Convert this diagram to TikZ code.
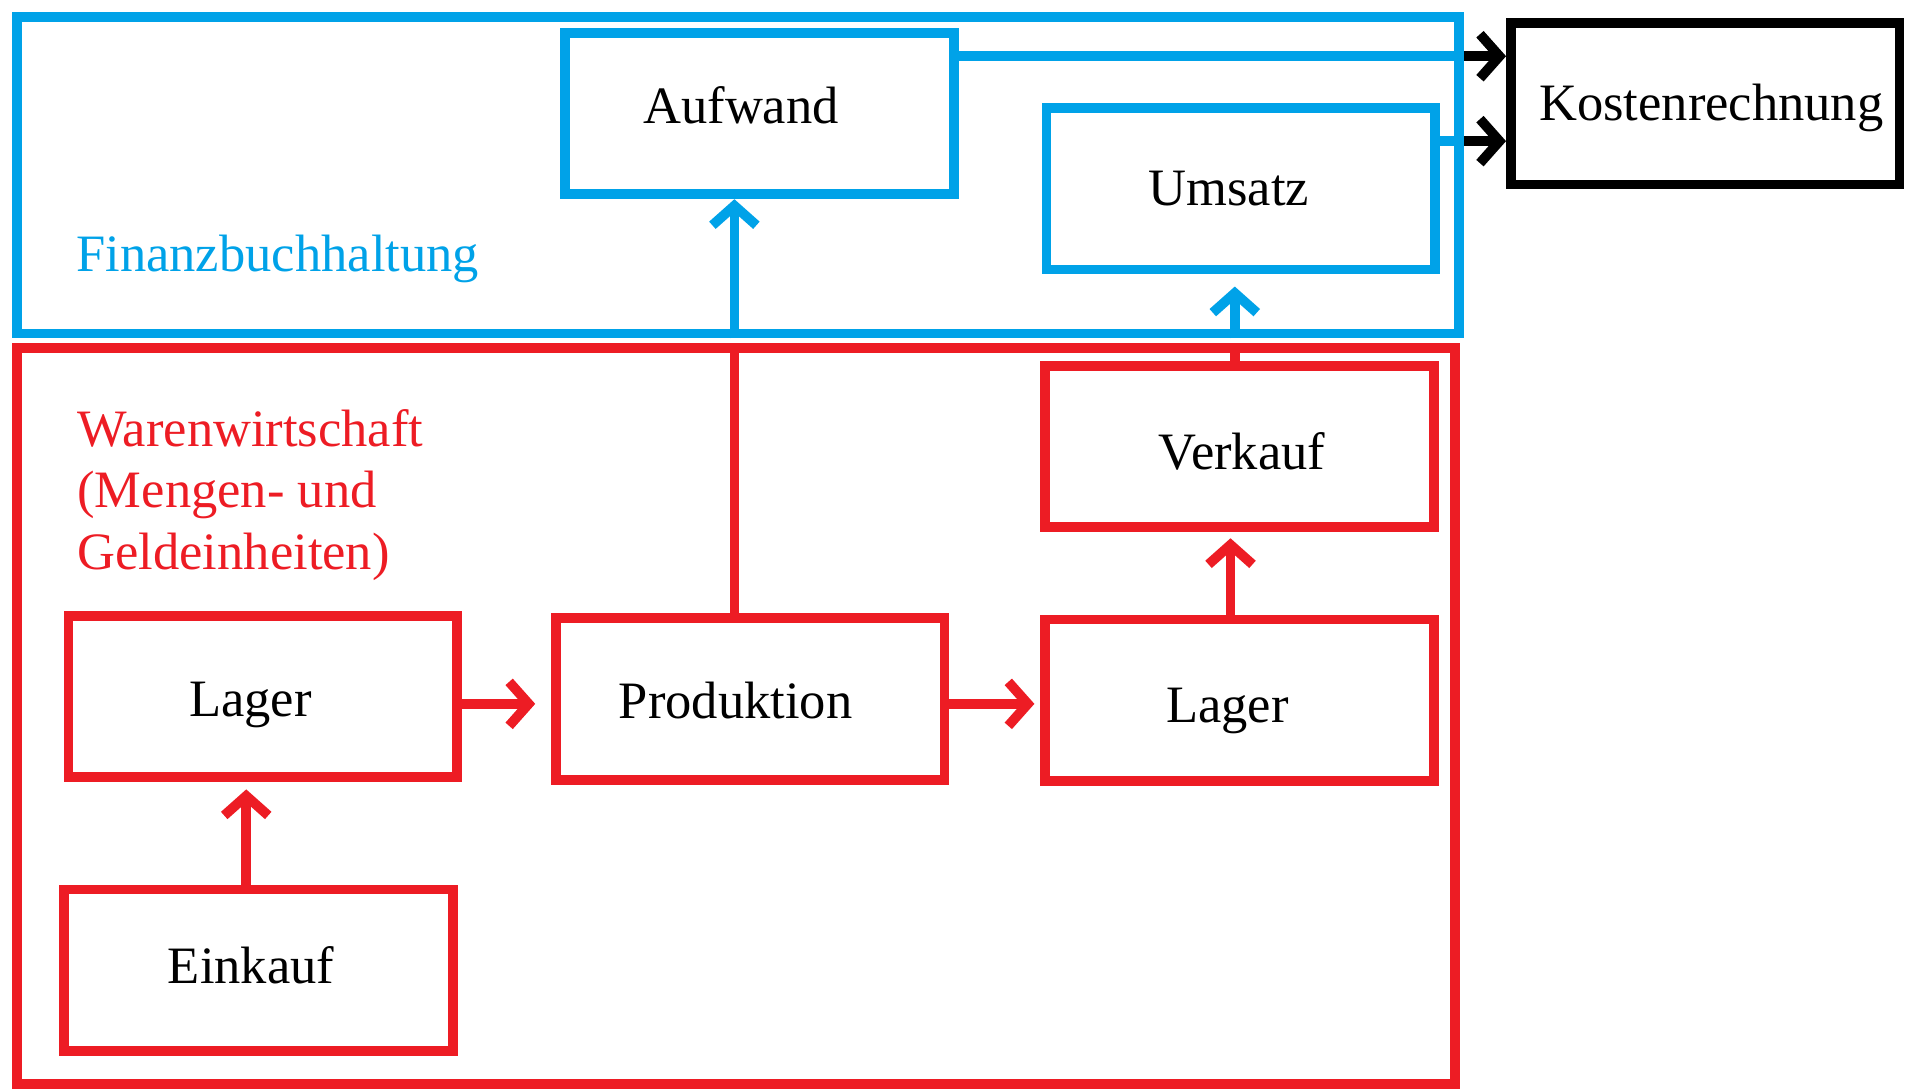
\documentclass[tikz,border=0pt]{standalone}
\usepackage{fontspec}
\setmainfont{Liberation Serif}
\usetikzlibrary{arrows.meta}
\definecolor{fibublue}{HTML}{00A2E8}
\definecolor{wawired}{HTML}{ED1C24}

\begin{document}
\begin{tikzpicture}[x=0.5pt, y=-0.5pt,
        every node/.style={font=\fontsize{21.5}{25}\selectfont},
        box/.style={draw, line width=4pt, minimum width=159pt, minimum height=66pt},
        boxtext/.style n args={3}{label={[xshift=#1, yshift=#2]center:#3}},
        link/.style={line width=4pt},
        flow/.style={line width=4pt, -{Straight Barb[length=8pt,width=18pt,sharp]}}]

        \useasboundingbox (0,0) rectangle (1568,891);

        % Areas
        \node[draw=fibublue, line width=4pt, minimum width=590pt, minimum height=129.5pt] (fibu) at (604,143.5) {};
        \node[draw=wawired, line width=4pt, minimum width=588.5pt, minimum height=301pt] (wawi) at (602.5,586) {};

        \node[fibublue, anchor=base west, inner sep=0] (fibulabel) at (62,222) {Finanzbuchhaltung};
        \node[wawired, anchor=north west, inner sep=0, align=left] (wawilabel) at (63,335)
            {Warenwirtschaft\\(Mengen- und\\Geldeinheiten)};

        % Finanzbuchhaltung
        \node[box, draw=fibublue, boxtext={-7.5pt}{3.5pt}{Aufwand}] (aufwand) at (621.5, 93) {};
        \node[box, draw=fibublue, boxtext={-5pt}{0pt}{Umsatz}] (umsatz) at (1015.5,154.5) {};

        % Kostenrechnung
        \node[box, draw=black, boxtext={2.5pt}{-1.5pt}{Kostenrechnung}] (kosten) at (1395.5, 85) {};

        % Warenwirtschaft
        \node[box, draw=wawired, boxtext={1pt}{-2pt}{Verkauf}] (verkauf) at (1014.5,365.5) {};
        \node[box, draw=wawired, boxtext={-5pt}{-4.5pt}{Lager}] (lagerr) at (1014.5, 573) {};
        \node[box, draw=wawired, boxtext={-6pt}{-0.5pt}{Produktion}] (prod) at ( 614, 572) {};
        \node[box, draw=wawired, boxtext={-5pt}{-3.5pt}{Lager}] (lagerl) at ( 215, 570) {};
        \node[box, draw=wawired, boxtext={-3pt}{2pt}{Einkauf}] (einkauf) at (211.5, 794) {};

        % Flows to Kostenrechnung
        \coordinate (ak) at ([yshift=-11.5pt]aufwand.north east);
        \coordinate (uk) at ([yshift=-15.5pt]umsatz.north east);
        \draw[link, fibublue] (ak) -- (ak -| fibu.east);
        \draw[flow, black] (ak -| fibu.east) -- (ak -| kosten.west);
        \draw[link, fibublue] (uk) -- (uk -| fibu.east);
        \draw[flow, black] (uk -| fibu.east) -- (uk -| kosten.west);

        % Flows into Finanzbuchhaltung
        \coordinate (pa) at ([xshift=-6.5pt]prod.north);
        \coordinate (vu) at ([xshift=-2pt]verkauf.north);
        \draw[link, wawired] (pa) -- (pa |- wawi.north);
        \draw[flow, fibublue] (pa |- fibu.south) -- (pa |- aufwand.south);
        \draw[link, wawired] (vu) -- (vu |- wawi.north);
        \draw[flow, fibublue, shorten >=5pt] (vu |- fibu.south) -- (vu |- umsatz.south);

        % Flows in Warenwirtschaft
        \coordinate (lp) at ([yshift=-3pt]lagerl.east);
        \coordinate (pl) at ([yshift=-2pt]prod.east);
        \coordinate (lv) at ([xshift=-3.75pt]lagerr.north);
        \coordinate (el) at ([xshift=-5pt]einkauf.north);
        \draw[flow, wawired, shorten >=6.5pt] (lp) -- (lp -| prod.west);
        \draw[flow, wawired, shorten >=2.5pt] (pl) -- (pl -| lagerr.west);
        \draw[flow, wawired, shorten >=2.5pt] (lv) -- (lv |- verkauf.south);
        \draw[flow, wawired, shorten >=3pt] (el) -- (el |- lagerl.south);

    \end{tikzpicture}
\end{document}
